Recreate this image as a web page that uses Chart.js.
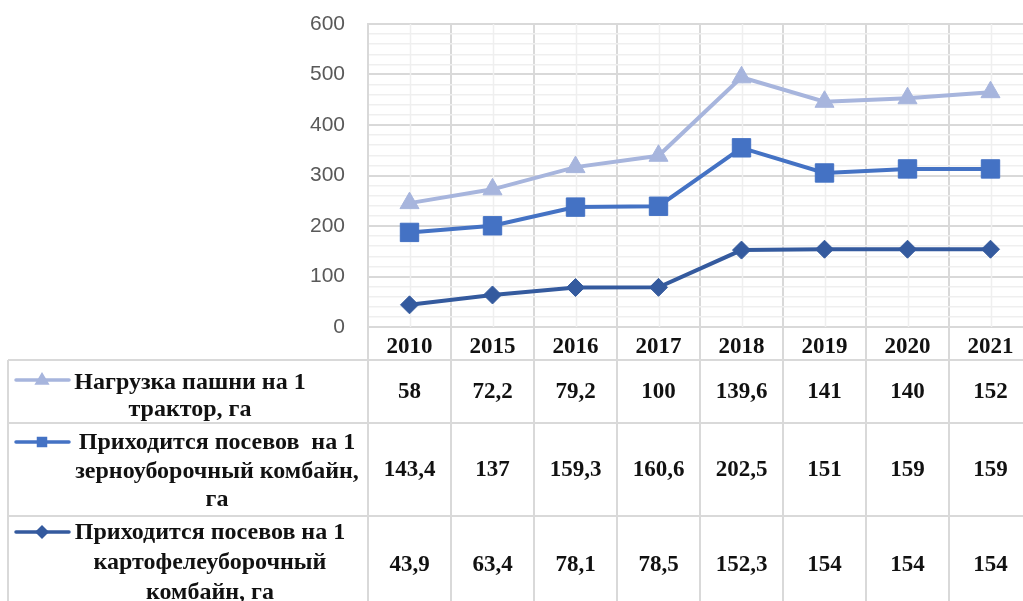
<!DOCTYPE html>
<html><head><meta charset="utf-8">
<script src="https://cdn.jsdelivr.net/npm/chart.js@4.4.1/dist/chart.umd.min.js"></script>
<style>html,body{margin:0;padding:0;overflow:hidden;background:#fff}</style>
</head><body>
<canvas id="c" width="1040" height="601"></canvas>
<script>
const categories = ['2010','2015','2016','2017','2018','2019','2020','2021'];
const tractorLoad = [58, 72.2, 79.2, 100, 139.6, 141, 140, 152];
const grainCombine = [143.4, 137, 159.3, 160.6, 202.5, 151, 159, 159];
const potatoCombine = [43.9, 63.4, 78.1, 78.5, 152.3, 154, 154, 154];
const tractorName = ['Нагрузка пашни на 1', 'трактор, га'];
const grainName = ['Приходится посевов  на 1', 'зерноуборочный комбайн,', 'га'];
const potatoName = ['Приходится посевов на 1', 'картофелеуборочный', 'комбайн, га'];
const yMajorTicks = [0, 100, 200, 300, 400, 500, 600];

const C_LIGHT = '#A7B5DD', C_MID = '#4472C4', C_DARK = '#345A9E';
const GRID_MAJOR = '#D9D9D9', GRID_MINOR = '#EFEFEF';
const serif = '"Liberation Serif", "Times New Roman", serif';

const fmt = v => String(v).replace('.', ',');

const tableRows = [
  {data: tractorLoad, name: tractorName, color: C_LIGHT, style: 'triangle', top: 360, bottom: 423, textCx: 190, lineY: [383, 410], keyY: 380},
  {data: grainCombine, name: grainName, color: C_MID, style: 'rect', top: 423, bottom: 516, textCx: 217, lineY: [443, 472, 500], keyY: 442},
  {data: potatoCombine, name: potatoName, color: C_DARK, style: 'rectRot', top: 516, bottom: 612, textCx: 210, lineY: [533, 563, 593], keyY: 532}
];

function drawMarker(ctx, style, x, y, r, color) {
  ctx.save();
  ctx.fillStyle = color;
  ctx.beginPath();
  if (style === 'triangle') {
    ctx.moveTo(x, y - r);
    ctx.lineTo(x + r * 0.95, y + r * 0.6);
    ctx.lineTo(x - r * 0.95, y + r * 0.6);
  } else if (style === 'rect') {
    ctx.rect(x - r * 0.75, y - r * 0.75, r * 1.5, r * 1.5);
  } else {
    ctx.moveTo(x, y - r); ctx.lineTo(x + r, y); ctx.lineTo(x, y + r); ctx.lineTo(x - r, y);
  }
  ctx.closePath();
  ctx.fill();
  ctx.restore();
}

const extras = {
  id: 'extras',
  beforeDatasetsDraw(chart) {
    const {ctx, chartArea, scales: {x}} = chart;
    ctx.save();
    ctx.strokeStyle = GRID_MINOR;
    ctx.lineWidth = 1.5;
    categories.forEach((c, i) => {
      const px = Math.round(x.getPixelForValue(i)) + 0.5;
      ctx.beginPath(); ctx.moveTo(px, chartArea.top); ctx.lineTo(px, chartArea.bottom); ctx.stroke();
    });
    ctx.restore();
  },
  afterDraw(chart) {
    const {ctx, chartArea, scales: {x}} = chart;
    const n = categories.length;
    const catW = x.getPixelForValue(1) - x.getPixelForValue(0);
    const bounds = [];
    for (let i = 0; i <= n; i++) bounds.push(x.getPixelForValue(0) - catW / 2 + i * catW);
    const tableLeft = 8, tableRight = bounds[n];
    ctx.save();
    ctx.strokeStyle = GRID_MAJOR;
    ctx.lineWidth = 2;
    bounds.forEach(b => {
      ctx.beginPath(); ctx.moveTo(b, chartArea.bottom); ctx.lineTo(b, 601); ctx.stroke();
    });
    ctx.beginPath(); ctx.moveTo(tableLeft, tableRows[0].top); ctx.lineTo(tableLeft, 601); ctx.stroke();
    tableRows.forEach(r => {
      ctx.beginPath(); ctx.moveTo(tableLeft, r.top); ctx.lineTo(tableRight, r.top); ctx.stroke();
    });
    ctx.fillStyle = '#111';
    ctx.textAlign = 'center';
    ctx.textBaseline = 'middle';
    tableRows.forEach(r => {
      const cy = (r.top + r.bottom) / 2;
      ctx.font = 'bold 23px ' + serif;
      r.data.forEach((v, i) => {
        ctx.fillText(fmt(v), x.getPixelForValue(i), cy + 1);
      });
      ctx.font = 'bold 24px ' + serif;
      r.name.forEach((t, j) => ctx.fillText(t, r.textCx, r.lineY[j]));
      ctx.strokeStyle = r.color;
      ctx.lineWidth = 3.5;
      ctx.lineCap = 'round';
      ctx.beginPath(); ctx.moveTo(16, r.keyY); ctx.lineTo(69, r.keyY); ctx.stroke();
      drawMarker(ctx, r.style, 42, r.keyY, r.style === 'triangle' ? 8 : 7, r.color);
    });
    ctx.restore();
  }
};

const mk = (label, data, color, style, radius) => ({
  label, data,
  borderColor: color, backgroundColor: color,
  pointBackgroundColor: color, pointBorderColor: color,
  borderWidth: 4, pointStyle: style, pointRadius: radius, pointBorderWidth: 1,
  tension: 0, fill: false, clip: false
});

new Chart(document.getElementById('c'), {
  type: 'line',
  data: {
    labels: categories,
    datasets: [
      mk(potatoName.join(' '), potatoCombine, C_DARK, 'rectRot', 9),
      mk(grainName.join(' '), grainCombine, C_MID, 'rect', 13),
      mk(tractorName.join(' '), tractorLoad, C_LIGHT, 'triangle', 11)
    ]
  },
  options: {
    responsive: false,
    animation: false,
    layout: {autoPadding: false, padding: {left: 0, right: 8, top: 24, bottom: 241}},
    plugins: {legend: {display: false}, tooltip: {enabled: false}},
    scales: {
      x: {
        offset: true,
        grid: {offset: true, color: GRID_MAJOR, lineWidth: 2, drawTicks: false},
        border: {color: GRID_MAJOR, width: 2},
        ticks: {color: '#111', font: {family: serif, size: 23, weight: 'bold'}, padding: 6, maxRotation: 0},
        afterFit(s) { s.height = 33; s.paddingLeft = 0; s.paddingRight = 0; }
      },
      y: {
        stacked: true,
        min: 0, max: 600,
        grid: {
          drawTicks: false,
          color: c => (c.tick && c.tick.value % 100 === 0) ? GRID_MAJOR : GRID_MINOR,
          lineWidth: c => (c.tick && c.tick.value % 100 === 0) ? 2 : 1.5
        },
        border: {color: GRID_MAJOR, width: 2},
        ticks: {
          stepSize: 20, autoSkip: false, maxTicksLimit: 40,
          color: '#595959', font: {family: '"Liberation Sans", Arial, sans-serif', size: 21}, padding: 23,
          callback: v => yMajorTicks.includes(v) ? String(v) : ''
        },
        afterFit(s) { s.width = 368; s.paddingTop = 0; s.paddingBottom = 0; }
      }
    }
  },
  plugins: [extras]
});
</script>
</body></html>
